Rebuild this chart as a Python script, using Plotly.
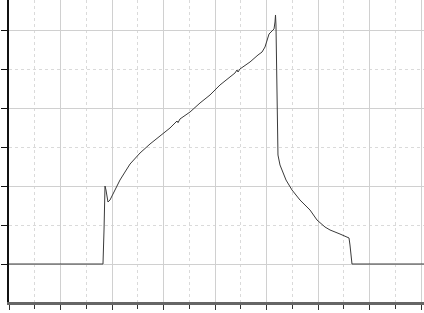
import plotly.graph_objects as go

# signal trace (x in axis units, y in axis units)
time = [0, 1.825, 1.845, 1.854, 1.864, 1.883, 1.903, 1.922, 1.961, 2.000, 2.078, 2.155, 2.252,
        2.350, 2.544, 2.738, 2.932, 3.126, 3.223, 3.262, 3.282, 3.320, 3.515, 3.709, 3.903,
        4.097, 4.291, 4.388, 4.427, 4.447, 4.485, 4.680, 4.835, 4.913, 4.971, 5.010, 5.049,
        5.107, 5.146, 5.165, 5.175, 5.184, 5.194, 5.204, 5.223, 5.262, 5.320, 5.379, 5.495,
        5.650, 5.845, 5.981, 6.136, 6.233, 6.427, 6.563, 6.602, 6.621, 6.641, 6.660, 8.06]
signal = [0, 0, 0.438, 0.888, 1.004, 0.953, 0.850, 0.798, 0.824, 0.876, 0.979, 1.081, 1.184,
          1.287, 1.429, 1.545, 1.648, 1.751, 1.815, 1.841, 1.820, 1.867, 1.957, 2.073, 2.176,
          2.305, 2.408, 2.459, 2.498, 2.472, 2.511, 2.601, 2.691, 2.729, 2.794, 2.884, 2.961,
          3.000, 3.026, 3.116, 3.206, 3.077, 2.626, 1.854, 1.403, 1.275, 1.172, 1.081, 0.953,
          0.824, 0.695, 0.566, 0.476, 0.438, 0.386, 0.348, 0.335, 0.245, 0.077, 0, 0]

fig = go.Figure()
fig.add_trace(go.Scatter(x=time, y=signal, mode="lines",
                         line=dict(color="#3a3a3a", width=1), showlegend=False,
                         hoverinfo="skip"))

fig.update_layout(
    width=424, height=313,
    margin=dict(l=9, r=0, t=0, b=11, autoexpand=False),
    paper_bgcolor="white", plot_bgcolor="white",
)
fig.update_xaxes(
    automargin=False,
    range=[0, 415 / 51.5], dtick=1, tick0=0,
    showgrid=True, gridcolor="#d0d0d0", gridwidth=1,
    minor=dict(dtick=0.5, tick0=0, showgrid=True, gridcolor="#dadada", griddash="dot",
               ticks="outside", ticklen=4, tickcolor="#333"),
    ticks="outside", ticklen=5, tickcolor="#333", tickwidth=1,
    showticklabels=False, zeroline=False,
    showline=True, linecolor="#666", linewidth=3,
)
fig.update_yaxes(
    automargin=False,
    range=[-38 / 77.67, 264 / 77.67], dtick=1, tick0=0,
    showgrid=True, gridcolor="#d0d0d0", gridwidth=1,
    minor=dict(dtick=0.5, tick0=0, showgrid=True, gridcolor="#dadada", griddash="dot",
               ticks="outside", ticklen=6, tickcolor="#111"),
    ticks="outside", ticklen=6, tickcolor="#111", tickwidth=1,
    showticklabels=False, zeroline=False,
    showline=True, linecolor="#111", linewidth=2,
)
fig.write_html("out.html", config={"displayModeBar": False},
               post_script="document.body.style.margin='0';document.body.style.overflow='hidden';")
